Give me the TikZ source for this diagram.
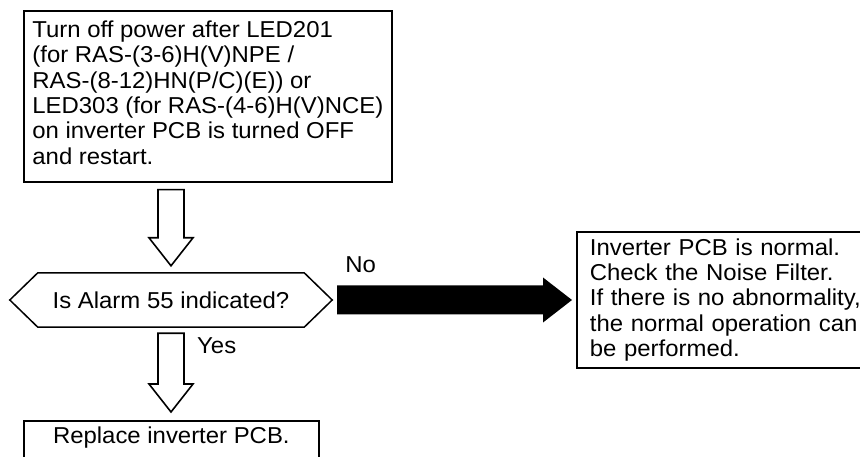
\documentclass[tikz,border=0pt]{standalone}
\usepackage{fontspec}
\setmainfont{Liberation Sans}[FakeStretch=1.04]
\usetikzlibrary{positioning,calc}

\begin{document}
\begin{tikzpicture}[
  x=1pt, y=-1pt,
  every node/.style={font=\fontsize{23}{25.3}\selectfont},
  stepbox/.style={draw, line width=1.7pt, align=left, inner xsep=10pt},
  decision/.style={minimum width=322pt, minimum height=54pt, inner sep=0pt},
  hexline/.style={line width=1.5pt, line join=miter},
  hollow/.style={draw, fill=white, line width=1.6pt, line join=miter},
  lbl/.style={inner sep=0pt}
]
\useasboundingbox (0,0) rectangle (860,457);
\clip (0,0) rectangle (860,457);

\node[stepbox, anchor=north west, minimum width=368pt, inner xsep=5pt, minimum height=171pt] (start) at (23,10) {Turn off power after LED201\\(for RAS-(3-6)H(V)NPE /\\RAS-(8-12)HN(P/C)(E)) or\\LED303 (for RAS-(4-6)H(V)NCE)\\on inverter PCB is turned OFF\\and restart.\strut};
\node[decision] (alarm) at (171,300) {Is Alarm 55 indicated?};
\draw[hexline] (alarm.west) -- ([xshift=28pt]alarm.north west) -- ([xshift=-28pt]alarm.north east) -- (alarm.east) -- ([xshift=-28pt]alarm.south east) -- ([xshift=28pt]alarm.south west) -- cycle;
\node[stepbox, anchor=west, minimum width=346pt, minimum height=136pt, text width=320pt, inner xsep=13pt] (normal) at (576,300) {Inverter PCB is normal.\\Check the Noise Filter.\\If there is no abnormality,\\the normal operation can\\be performed.};
\node[stepbox, align=center, anchor=north west, minimum width=295pt, inner ysep=0pt, text height=23pt, text depth=30pt] (replace) at (23,420) {Replace inverter PCB.};

\node[lbl, anchor=base west] (no) at ($(alarm.east)+(13,-27)$) {No};
\node[lbl, anchor=base west] (yes) at ($(alarm.south)+(26,26)$) {Yes};

% hollow arrows
\coordinate (a1s) at ([yshift=-7pt]alarm.north |- start.south);
\coordinate (a1e) at ([yshift=7pt]alarm.north);
\draw[hollow] ($(a1s)+(-13,0)$) -- ($(a1e)+(-13,-28)$) -- ($(a1e)+(-22,-28)$) -- (a1e) -- ($(a1e)+(22,-28)$) -- ($(a1e)+(13,-28)$) -- ($(a1s)+(13,0)$) -- cycle;
\coordinate (a2s) at ([yshift=-6pt]alarm.south);
\coordinate (a2e) at ([yshift=8pt]alarm.south |- replace.north);
\draw[hollow] ($(a2s)+(-13,0)$) -- ($(a2e)+(-13,-28)$) -- ($(a2e)+(-22,-28)$) -- (a2e) -- ($(a2e)+(22,-28)$) -- ($(a2e)+(13,-28)$) -- ($(a2s)+(13,0)$) -- cycle;

% solid arrow
\coordinate (b1) at ([xshift=5pt]alarm.east);
\coordinate (b2) at ([xshift=-4pt]normal.west);
\fill ($(b1)+(0,-14.5)$) -- ($(b2)+(-29,-14.5)$) -- ($(b2)+(-29,-22.5)$) -- (b2) -- ($(b2)+(-29,22.5)$) -- ($(b2)+(-29,14.5)$) -- ($(b1)+(0,14.5)$) -- cycle;
\end{tikzpicture}
\end{document}
